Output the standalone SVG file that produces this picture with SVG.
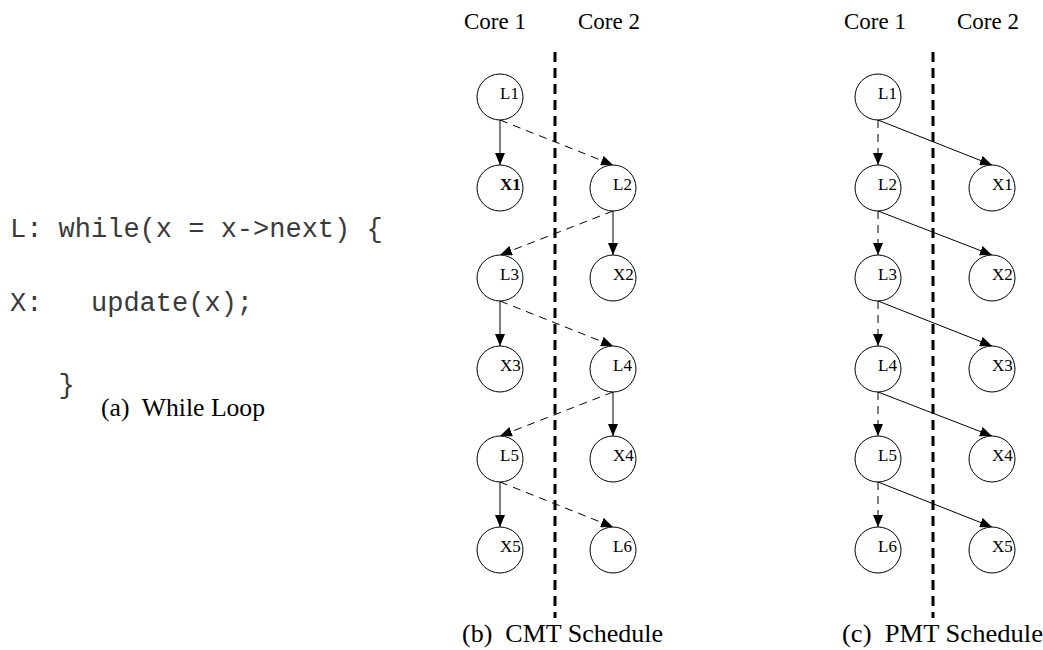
<svg xmlns="http://www.w3.org/2000/svg" width="1043" height="650" viewBox="0 0 1043 650">
<style>
.bg{fill:#ffffff}
.node circle{fill:#ffffff;stroke:#000000;stroke-width:1}
.node text{font-family:"Liberation Serif","Times New Roman",serif;font-size:17px;fill:#000000}
.solid{stroke:#000000;stroke-width:1;fill:none}
.dash{stroke:#000000;stroke-width:1;fill:none;stroke-dasharray:8 6}
.divider{stroke:#000000;stroke-width:3;stroke-dasharray:10 6;fill:none}
.hdr{font-family:"Liberation Serif","Times New Roman",serif;font-size:23px;fill:#000000}
.cap{font-family:"Liberation Serif","Times New Roman",serif;font-size:26px;fill:#000000}
.code{font-family:"Liberation Mono","Courier New",monospace;font-size:27px;fill:#3a3a3a}
</style>
<defs>
<marker id="ah" viewBox="0 0 12 10" refX="12" refY="5" markerWidth="12" markerHeight="10" markerUnits="userSpaceOnUse" orient="auto"><path d="M0,0 L12,5 L0,10 z" fill="#000000"/></marker>
</defs>
<rect class="bg" x="0" y="0" width="1043" height="650"/>

<g id="code-panel">
<text class="code" x="10" y="237" xml:space="preserve">L: while(x = x-&gt;next) {</text>
<text class="code" x="10" y="311" xml:space="preserve">X:   update(x);</text>
<text class="code" x="10" y="393" xml:space="preserve">   }</text>
<text class="cap" x="101" y="416" font-size="24" textLength="164" lengthAdjust="spacingAndGlyphs" xml:space="preserve">(a)  While Loop</text>
</g>

<g id="headers">
<text class="hdr" x="464" y="29">Core 1</text>
<text class="hdr" x="578" y="29">Core 2</text>
<text class="hdr" x="844" y="29">Core 1</text>
<text class="hdr" x="957" y="29">Core 2</text>
<text class="cap" x="462" y="642" textLength="201" lengthAdjust="spacingAndGlyphs" xml:space="preserve">(b)  CMT Schedule</text>
<text class="cap" x="842" y="642" textLength="201" lengthAdjust="spacingAndGlyphs" xml:space="preserve">(c)  PMT Schedule</text>
</g>

<g id="dividers">
<line class="divider" x1="555" y1="52" x2="555" y2="618"/>
<line class="divider" x1="933" y1="52" x2="933" y2="618"/>
</g>

<g id="connectors">
<line class="solid" x1="500" y1="120" x2="500" y2="165" marker-end="url(#ah)"/>
<line class="dash" x1="500" y1="120" x2="613" y2="165" marker-end="url(#ah)"/>
<line class="solid" x1="613" y1="211" x2="613" y2="255" marker-end="url(#ah)"/>
<line class="dash" x1="613" y1="211" x2="500" y2="255" marker-end="url(#ah)"/>
<line class="solid" x1="500" y1="301" x2="500" y2="346" marker-end="url(#ah)"/>
<line class="dash" x1="500" y1="301" x2="613" y2="346" marker-end="url(#ah)"/>
<line class="solid" x1="613" y1="392" x2="613" y2="436" marker-end="url(#ah)"/>
<line class="dash" x1="613" y1="392" x2="500" y2="436" marker-end="url(#ah)"/>
<line class="solid" x1="500" y1="482" x2="500" y2="527" marker-end="url(#ah)"/>
<line class="dash" x1="500" y1="482" x2="613" y2="527" marker-end="url(#ah)"/>
<line class="dash" x1="878" y1="120" x2="878" y2="165" marker-end="url(#ah)"/>
<line class="solid" x1="878" y1="120" x2="992" y2="165" marker-end="url(#ah)"/>
<line class="dash" x1="878" y1="211" x2="878" y2="255" marker-end="url(#ah)"/>
<line class="solid" x1="878" y1="211" x2="992" y2="255" marker-end="url(#ah)"/>
<line class="dash" x1="878" y1="301" x2="878" y2="346" marker-end="url(#ah)"/>
<line class="solid" x1="878" y1="301" x2="992" y2="346" marker-end="url(#ah)"/>
<line class="dash" x1="878" y1="392" x2="878" y2="436" marker-end="url(#ah)"/>
<line class="solid" x1="878" y1="392" x2="992" y2="436" marker-end="url(#ah)"/>
<line class="dash" x1="878" y1="482" x2="878" y2="527" marker-end="url(#ah)"/>
<line class="solid" x1="878" y1="482" x2="992" y2="527" marker-end="url(#ah)"/>
</g>

<g id="cmt-L1" class="node"><circle cx="500" cy="97" r="23"/><text x="500" y="99">L1</text></g>
<g id="cmt-X1" class="node"><circle cx="500" cy="188" r="23"/><text x="500" y="190" font-weight="bold">X1</text></g>
<g id="cmt-L2" class="node"><circle cx="613" cy="188" r="23"/><text x="613" y="190">L2</text></g>
<g id="cmt-L3" class="node"><circle cx="500" cy="278" r="23"/><text x="500" y="280">L3</text></g>
<g id="cmt-X2" class="node"><circle cx="613" cy="278" r="23"/><text x="613" y="280">X2</text></g>
<g id="cmt-X3" class="node"><circle cx="500" cy="369" r="23"/><text x="500" y="371">X3</text></g>
<g id="cmt-L4" class="node"><circle cx="613" cy="369" r="23"/><text x="613" y="371">L4</text></g>
<g id="cmt-L5" class="node"><circle cx="500" cy="459" r="23"/><text x="500" y="461">L5</text></g>
<g id="cmt-X4" class="node"><circle cx="613" cy="459" r="23"/><text x="613" y="461">X4</text></g>
<g id="cmt-X5" class="node"><circle cx="500" cy="550" r="23"/><text x="500" y="552">X5</text></g>
<g id="cmt-L6" class="node"><circle cx="613" cy="550" r="23"/><text x="613" y="552">L6</text></g>

<g id="pmt-L1" class="node"><circle cx="878" cy="97" r="23"/><text x="878" y="99">L1</text></g>
<g id="pmt-L2" class="node"><circle cx="878" cy="188" r="23"/><text x="878" y="190">L2</text></g>
<g id="pmt-X1" class="node"><circle cx="992" cy="188" r="23"/><text x="992" y="190">X1</text></g>
<g id="pmt-L3" class="node"><circle cx="878" cy="278" r="23"/><text x="878" y="280">L3</text></g>
<g id="pmt-X2" class="node"><circle cx="992" cy="278" r="23"/><text x="992" y="280">X2</text></g>
<g id="pmt-L4" class="node"><circle cx="878" cy="369" r="23"/><text x="878" y="371">L4</text></g>
<g id="pmt-X3" class="node"><circle cx="992" cy="369" r="23"/><text x="992" y="371">X3</text></g>
<g id="pmt-L5" class="node"><circle cx="878" cy="459" r="23"/><text x="878" y="461">L5</text></g>
<g id="pmt-X4" class="node"><circle cx="992" cy="459" r="23"/><text x="992" y="461">X4</text></g>
<g id="pmt-L6" class="node"><circle cx="878" cy="550" r="23"/><text x="878" y="552">L6</text></g>
<g id="pmt-X5" class="node"><circle cx="992" cy="550" r="23"/><text x="992" y="552">X5</text></g>
</svg>
